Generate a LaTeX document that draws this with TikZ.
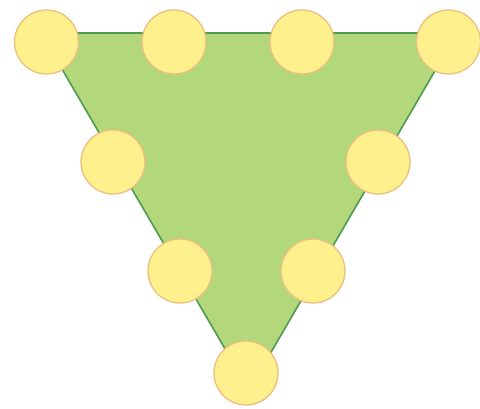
\documentclass[tikz,border=0pt]{standalone}
\definecolor{trifill}{HTML}{B3D87C}
\definecolor{triedge}{HTML}{4E9A4E}
\definecolor{ballfill}{HTML}{FFF08E}
\definecolor{balledge}{HTML}{EDBE7E}
\tikzset{
  ball/.style={circle, draw=balledge, fill=ballfill, line width=1.3pt, minimum size=64pt, inner sep=0pt},
  tri/.style={fill=trifill, draw=triedge, line width=1.6pt, line join=miter}
}
\begin{document}
\begin{tikzpicture}[x=1pt,y=-1pt]
\useasboundingbox (0,0) rectangle (480,408);
\coordinate (A) at (41,33);
\coordinate (B) at (457,33);
\coordinate (C) at (249,390);
\draw[tri] (A) -- (B) -- (C) -- cycle;
\node[ball] (n1) at (46.5,42) {};
\node[ball] (n2) at (174,42) {};
\node[ball] (n3) at (302,42) {};
\node[ball] (n4) at (448.5,42) {};
\node[ball] (n5) at (113,162) {};
\node[ball] (n6) at (378,162) {};
\node[ball] (n7) at (180,271) {};
\node[ball] (n8) at (313,271) {};
\node[ball] (n9) at (246,373) {};
\end{tikzpicture}
\end{document}
